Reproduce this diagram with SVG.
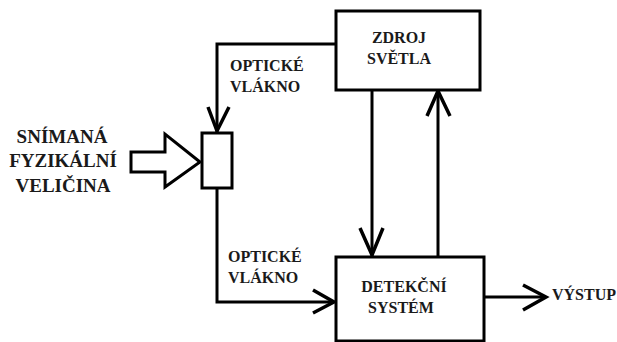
<svg xmlns="http://www.w3.org/2000/svg" width="617" height="342" viewBox="0 0 617 342">
<style>
.box{fill:#fff;stroke:#000;stroke-width:3}
.ln{fill:none;stroke:#000;stroke-width:3}
.hd{fill:none;stroke:#000;stroke-width:3.5}
.t{font-family:'Liberation Serif','Times New Roman',serif;font-weight:bold;fill:#1a1a1a;font-size:16px}
.big{font-size:19px}
</style>
<rect width="617" height="342" fill="#fff"/>
<g id="connectors">
<polyline class="ln" points="336,44 217,44 217,132"/>
<polyline class="hd" points="208,107 217,131 229,107"/>
<polyline class="ln" points="217,189 217,302 334,302"/>
<polyline class="hd" points="313,290 334,302 313,313"/>
<line class="ln" x1="372" y1="90" x2="372" y2="256"/>
<polyline class="hd" points="360,228 372,255 383,228"/>
<line class="ln" x1="438" y1="257" x2="438" y2="91"/>
<polyline class="hd" points="427,116 438,91 450,116"/>
<line class="ln" x1="484" y1="297" x2="546" y2="297"/>
<polyline class="hd" points="523,285 546,297 523,310"/>
</g>
<g id="input-arrow">
<polygon class="box" points="131,152 165,152 165,134 200,162 165,187 165,172 131,172"/>
</g>
<g id="label-input" class="t big">
<text x="62" y="143" text-anchor="middle">SNÍMANÁ</text>
<text x="63" y="167" text-anchor="middle">FYZIKÁLNÍ</text>
<text x="63" y="192" text-anchor="middle">VELIČINA</text>
</g>
<g id="sensor">
<rect class="box" x="202" y="133" width="30" height="55"/>
</g>
<g id="zdroj">
<rect class="box" x="336" y="11" width="144" height="79"/>
<g class="t"><text x="399" y="43" text-anchor="middle">ZDROJ</text>
<text x="399" y="64" text-anchor="middle">SVĚTLA</text></g>
</g>
<g id="detekce">
<rect class="box" x="336" y="257" width="148" height="84"/>
<g class="t"><text x="404" y="292" text-anchor="middle">DETEKČNÍ</text>
<text x="401" y="313" text-anchor="middle">SYSTÉM</text></g>
</g>
<g id="labels" class="t">
<text x="230" y="71">OPTICKÉ</text>
<text x="230" y="92">VLÁKNO</text>
<text x="228" y="262">OPTICKÉ</text>
<text x="228" y="283">VLÁKNO</text>
<text x="552" y="300">VÝSTUP</text>
</g>
</svg>
